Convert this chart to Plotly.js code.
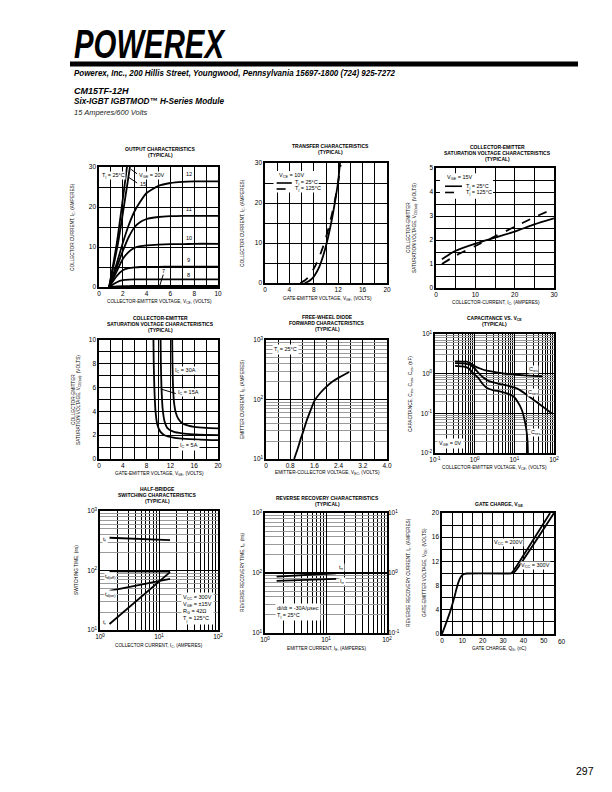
<!DOCTYPE html>
<html><head><meta charset="utf-8">
<script src="https://cdn.plot.ly/plotly-3.0.1.min.js"></script>
<style>html,body{margin:0;padding:0;background:#fff}#chart{width:612px;height:792px}</style>
</head><body><div id="chart"></div>
<script>
// ===== DATA =====
// 1. Output characteristics
const outVce = [0.85,1.5,2,2.5,3,3.5,4,5,6,7,8,10];
const outIc12 = [0,6,11,15.5,19,21.5,23.5,25.3,26,26.3,26.4,26.4];
const outIc11 = [0,5,9,12.5,15,16.3,17,17.5,17.7,17.8,17.8,17.8];
const outIc10 = [0,4,7,8.8,9.8,10.2,10.4,10.6,10.7,10.7,10.8,10.8];
const outIc9  = [0,2.8,4.2,4.7,4.9,5,5,5.05,5.1,5.1,5.1,5.1];
const outIc8  = [0,1.2,1.7,1.85,1.9,1.9,1.9,1.9,1.9,1.9,1.9,1.9];
const outIc7  = [0,0.18,0.22,0.24,0.25,0.25,0.25,0.25,0.25,0.25,0.25,0.25];
const outVce20 = [0.85,1.5,2.35];
const outIc20  = [0,11,30];
const outVce15 = [0.85,1.6,2.6];
const outIc15  = [0,11,30];
// 2. Transfer characteristics
const trVge25 = [6.5,7,7.5,8,8.5,9,9.5,10,10.5,11,11.5,12,12.3];
const trIc25  = [0,0.3,0.8,1.6,2.8,4.4,6.6,9.3,12.5,16.2,20.5,25.5,30];
const trVge125 = [5.8,6.5,7,7.5,8,8.5,9,9.5,10,10.5,11,11.5,12,12.4];
const trIc125  = [0,0.6,1.3,2.3,3.6,5.1,6.9,9,11.4,14.2,17.4,21,25.2,29.5];
// 3. Vce(sat) vs Ic
const satIc = [1.5,5,10,15,20,25,30];
const satV25  = [1.2,1.55,1.85,2.1,2.35,2.65,2.9];
const satV125 = [1.0,1.35,1.75,2.15,2.55,2.95,3.3];
// 4. Vce(sat) vs Vge
const sg30V = [12.3,12.35,12.45,12.6,12.9,13.3,14,15,16,18,20];
const sg30  = [10,8,6,4.8,3.9,3.4,3.0,2.8,2.7,2.62,2.58];
const sg15V = [10.35,10.4,10.5,10.7,11,11.5,12.5,14,16,18,20];
const sg15  = [10,8,6,4.2,3.2,2.6,2.3,2.15,2.07,2.03,2.0];
const sg5V  = [9.15,9.2,9.3,9.5,9.8,10.3,11,12.5,14,17,20];
const sg5   = [10,8,6,4,2.9,2.3,2.0,1.8,1.72,1.63,1.58];
// 5. Free-wheel diode
const diodeV = [0.93,1.05,1.15,1.24,1.35,1.47,1.6,1.8,2.0,2.2,2.45,2.75];
const diodeI = [10,15,22,30,45,65,95,130,165,200,240,290];
// 6. Capacitance
const ciesV = [0.32,0.5,0.63,0.8,1.0,1.37,2,2.95,5,11.4,30,50];
const cies  = [2.04,2.02,2.0,1.8,1.55,1.35,1.2,1.12,1.02,0.94,0.88,0.86];
const coesV = [0.32,0.5,0.76,1.0,1.3,1.7,2.4,4,7.8,12,20,40,87];
const coes  = [1.85,1.82,1.68,1.35,1.0,0.78,0.64,0.56,0.48,0.42,0.30,0.18,0.10];
const cresV = [0.32,0.5,0.69,0.9,1.23,1.6,2.0,3,4.3,6.5,9.4,12,15.3,18,20,21.5,22];
const cres  = [1.58,1.52,1.38,1.05,0.78,0.55,0.44,0.38,0.36,0.32,0.27,0.2,0.125,0.07,0.04,0.02,0.01];
// 7. Switching times
const swIc = [1.45,15.4];
const swTf = [355,324];
const swTdoff = [97,96];
const swTdon = [45.6,72];
const swTr = [12.6,94];
// 8. Reverse recovery
const rrIe = [1.55,14.7];
const rrTrr = [87,99];
const rrIrr = [0.74,0.80];
// 9. Gate charge
const gcQ = [0,2,4,6,7,8,9,10,11,12,34];
const gcV = [0,1.8,3.7,6,7.3,8.5,9.3,9.75,9.92,10,10];
const gc200Q = [34,35,53.1];
const gc200V = [10,10.4,20];
const gc300Q = [34.5,36,55];
const gc300V = [10,10.4,20];

// tick labels
const c1xLabels=[0,2,4,6,8,10], c1yLabels=[0,10,20,30];
const c2xLabels=[0,4,8,12,16,20], c2yLabels=[0,10,20,30];
const c3xLabels=[0,10,20,30], c3yLabels=[0,1,2,3,4,5];
const c4xLabels=[0,4,8,12,16,20], c4yLabels=[0,2,4,6,8,10];
const c5xLabels=[0,0.8,1.6,2.4,3.2,4.0];
const c9xLabels=[0,10,20,30,40,50], c9yLabels=[0,4,8,12,16,20];
const sup = (e)=>'10<sup>'+e+'</sup>';

// ===== LAYOUT HELPERS =====
const W=612,H=792;
const px=x=>x/W, py=y=>1-y/H;
const FONT='Liberation Sans, Arial, sans-serif';
const dom = {
 1:{x:[99,218],y:[167,287]}, 2:{x:[265,387],y:[163,283]}, 3:{x:[436,554],y:[168,288]},
 4:{x:[99,218],y:[340,459]}, 5:{x:[266,387],y:[340,459]}, 6:{x:[435,554],y:[334,453]},
 7:{x:[100,218],y:[511,630]}, 8:{x:[265,387],y:[513,633]}, 9:{x:[442,554],y:[513,634]}};
const ax = n => n===1?'':String(n);

function base(){
  return {showline:true,linewidth:1.6,linecolor:'black',mirror:true,showgrid:true,gridcolor:'black',
    gridwidth:1,zeroline:false,ticks:'',tickfont:{family:FONT,size:6.5,color:'black'},fixedrange:true};
}
function seq(a,b,s){const r=[];for(let v=a;v<=b+1e-9;v+=s)r.push(Math.round(v*1000)/1000);return r;}
function linAxis(isX,n,range,labels,step,fmt){
  const d = isX?[px(dom[n].x[0]),px(dom[n].x[1])]:[py(dom[n].y[1]),py(dom[n].y[0])];
  return Object.assign(base(),{domain:d,anchor:(isX?'y':'x')+ax(n),range,
    tickmode:'array',tickvals:labels.filter(v=>v<=range[1]),ticktext:labels.filter(v=>v<=range[1]).map(fmt||String),
    minor:{tickmode:'array',tickvals:seq(range[0],range[1],step),showgrid:true,gridcolor:'black',gridwidth:1,ticks:''}});
}
function logMinor(lo,hi){const m=[];for(let e=lo;e<hi;e++)for(let k=2;k<=9;k++)m.push(k*Math.pow(10,e));return m;}
function decades(lo,hi){const v=[],t=[];for(let e=lo;e<=hi;e++){v.push(Math.pow(10,e));t.push(sup(e<0?'-'+(-e):e));}return [v,t];}
function logX(n,lo,hi){
  const [v,t]=decades(lo,hi);
  return Object.assign(base(),{domain:[px(dom[n].x[0]),px(dom[n].x[1])],anchor:'y'+ax(n),type:'log',range:[lo,hi],
    tickmode:'array',tickvals:v,ticktext:t,
    minor:{tickmode:'array',tickvals:logMinor(lo,hi),showgrid:true,gridcolor:'black',gridwidth:1,ticks:''}});
}
function logY(n,lo,hi){
  const [v,t]=decades(lo,hi);
  return Object.assign(base(),{domain:[py(dom[n].y[1]),py(dom[n].y[0])],anchor:'x'+ax(n),type:'log',range:[lo,hi],
    tickmode:'array',tickvals:v,ticktext:t,gridwidth:1.4,
    minor:{tickmode:'array',tickvals:logMinor(lo,hi),showgrid:true,gridcolor:'#9a9a9a',gridwidth:1,ticks:''}});
}

// ===== TRACES =====
const traces=[];
function line(n,x,y,dash,yaxisOverride){
  traces.push({x,y,xaxis:'x'+ax(n),yaxis:yaxisOverride||('y'+ax(n)),mode:'lines',hoverinfo:'skip',
    line:{color:'black',width:1.8,dash:dash||'solid',shape:'spline',smoothing:0.6}});
}
line(1,outVce,outIc12);line(1,outVce,outIc11);line(1,outVce,outIc10);line(1,outVce,outIc9);
line(1,outVce,outIc8);line(1,outVce,outIc7);line(1,outVce20,outIc20);line(1,outVce15,outIc15);
line(2,trVge25,trIc25);line(2,trVge125,trIc125,'dash');
line(3,satIc,satV25);line(3,satIc,satV125,'dash');
line(4,sg30V,sg30);line(4,sg15V,sg15);line(4,sg5V,sg5);
line(5,diodeV,diodeI);
line(6,ciesV,cies);line(6,coesV,coes);line(6,cresV,cres);
line(7,swIc,swTf);line(7,swIc,swTdoff);line(7,swIc,swTdon);line(7,swIc,swTr);
line(8,rrIe,rrTrr);line(8,rrIe,rrIrr,null,'y10');
line(9,gcQ,gcV);line(9,gc200Q,gc200V);line(9,gc300Q,gc300V);

// ===== AXES =====
const layout={width:W,height:H,margin:{l:0,r:0,t:0,b:0},showlegend:false,paper_bgcolor:'white',plot_bgcolor:'white',
  font:{family:FONT,color:'black'}};
layout.xaxis=linAxis(true,1,[0,10],c1xLabels,1);
layout.yaxis=linAxis(false,1,[0,30],c1yLabels,5);
layout.xaxis2=linAxis(true,2,[0,20],c2xLabels,2);
layout.yaxis2=linAxis(false,2,[0,30],c2yLabels,5);
layout.xaxis3=linAxis(true,3,[0,30],c3xLabels,5);
layout.yaxis3=linAxis(false,3,[0,5],c3yLabels,0.5);
layout.xaxis4=linAxis(true,4,[0,20],c4xLabels,2);
layout.yaxis4=linAxis(false,4,[0,10],c4yLabels,1);
layout.xaxis5=linAxis(true,5,[0,4],c5xLabels,0.4,v=>v===0?'0':v.toFixed(1));
layout.yaxis5=logY(5,1,3);
layout.xaxis6=logX(6,-1,2); layout.yaxis6=logY(6,-2,1);
layout.xaxis7=logX(7,0,2); layout.yaxis7=logY(7,1,3);
layout.xaxis8=logX(8,0,2); layout.yaxis8=logY(8,1,3);
const y10=decades(-1,1);
layout.yaxis10={overlaying:'y8',side:'right',anchor:'x8',type:'log',range:[-1,1],tickmode:'array',tickvals:y10[0],ticktext:y10[1],
  showgrid:false,showline:false,zeroline:false,ticks:'',tickfont:{family:FONT,size:6.5,color:'black'},fixedrange:true};
layout.xaxis9=linAxis(true,9,[0,55],c9xLabels,5);
layout.yaxis9=linAxis(false,9,[0,20],c9yLabels,2);

// ===== TEXT =====
const ann=[];const shapes=[];
function P(text,x,y,o){ann.push(Object.assign({text,x:px(x),y:py(y),xref:'paper',yref:'paper',showarrow:false,
  xanchor:'center',yanchor:'middle',font:{family:FONT,size:4.7,color:'black'}},o||{}));}
function T(text,x,y){P(text,x,y,{font:{family:FONT,size:5,color:'black',weight:'bold'}});}
function D(n,text,x,y,o){ann.push(Object.assign({text,x,y,xref:'x'+ax(n),yref:'y'+ax(n),showarrow:false,
  xanchor:'center',yanchor:'middle',font:{family:FONT,size:5.5,color:'black'}},o||{}));}
function L(n,x0,y0,x1,y1,dash){shapes.push({type:'line',xref:'x'+ax(n),yref:'y'+ax(n),x0,y0,x1,y1,line:{color:'black',width:dash==='w'?1:1.6,dash:dash&&dash!=='w'?dash:'solid'}});}
function R(n,x0,y0,x1,y1){shapes.push({type:'rect',xref:'x'+ax(n),yref:'y'+ax(n),x0,y0,x1,y1,fillcolor:'white',line:{width:0},layer:'above'});}

// header
const HF='Liberation Sans, Arial';
P('POWEREX',72,44,{xanchor:'left',font:{family:HF,size:40,color:'black',weight:'bold',style:'italic'}});
shapes.push({type:'rect',xref:'paper',yref:'paper',x0:px(70),x1:px(578),y0:py(66.5),y1:py(61.5),fillcolor:'black',line:{width:0}});
P('Powerex, Inc., 200 Hillis Street, Youngwood, Pennsylvania 15697-1800 (724) 925-7272',72,72.5,
  {xanchor:'left',font:{family:HF,size:9.5,color:'black',weight:'bold',style:'italic'}});
P('CM15TF-12H',72,91,{xanchor:'left',font:{family:HF,size:9,color:'black',weight:'bold',style:'italic'}});
P('Six-IGBT IGBTMOD™ H-Series Module',72,101.5,{xanchor:'left',font:{family:HF,size:9,color:'black',weight:'bold',style:'italic'}});
P('15 Amperes/600 Volts',72,112.5,{xanchor:'left',font:{family:HF,size:7.5,color:'#222',style:'italic'}});
P('297',585,771,{font:{family:HF,size:10.5,color:'black'}});

// chart titles
T('OUTPUT CHARACTERISTICS',160,149); T('(TYPICAL)',160,155);
T('TRANSFER CHARACTERISTICS',330,146); T('(TYPICAL)',330,152);
T('COLLECTOR-EMITTER',497,147); T('SATURATION VOLTAGE CHARACTERISTICS',497,153); T('(TYPICAL)',497,159);
T('COLLECTOR-EMITTER',160,318); T('SATURATION VOLTAGE CHARACTERISTICS',160,324); T('(TYPICAL)',160,330);
T('FREE-WHEEL DIODE',327,317); T('FORWARD CHARACTERISTICS',327,323); T('(TYPICAL)',327,329);
T('CAPACITANCE VS. V<sub>CE</sub>',494,318); T('(TYPICAL)',494,324);
T('HALF-BRIDGE',157,489); T('SWITCHING CHARACTERISTICS',157,495); T('(TYPICAL)',157,501);
T('REVERSE RECOVERY CHARACTERISTICS',327,498); T('(TYPICAL)',327,504);
T('GATE CHARGE, V<sub>GE</sub>',499,504);

// axis titles
const rot={textangle:-90};
P('COLLECTOR-EMITTER VOLTAGE, V<sub>CE</sub>, (VOLTS)',159,302);
P('COLLECTOR CURRENT, I<sub>C</sub>, (AMPERES)',73,227,rot);
P('GATE-EMITTER VOLTAGE, V<sub>GE</sub>, (VOLTS)',327,299);
P('COLLECTOR CURRENT, I<sub>C</sub>, (AMPERES)',243,223,rot);
P('COLLECTOR-CURRENT, I<sub>C</sub>, (AMPERES)',496,303);
P('COLLECTOR-EMITTER',409,228,rot); P('SATURATION VOLTAGE, V<sub>CE(sat)</sub>, (VOLTS)',415,228,rot);
P('GATE-EMITTER VOLTAGE, V<sub>GE</sub>, (VOLTS)',159,474);
P('COLLECTOR-EMITTER',73,400,rot); P('SATURATION VOLTAGE, V<sub>CE(sat)</sub>, (VOLTS)',79,400,rot);
P('EMITTER-COLLECTOR VOLTAGE, V<sub>EC</sub>, (VOLTS)',327,473);
P('EMITTER CURRENT, I<sub>E</sub>, (AMPERES)',243,400,rot);
P('COLLECTOR-EMITTER VOLTAGE, V<sub>CE</sub>, (VOLTS)',494,468);
P('CAPACITANCE, C<sub>ies</sub>, C<sub>oes</sub>, C<sub>res</sub>, (nF)',411,394,rot);
P('COLLECTOR CURRENT, I<sub>C</sub>, (AMPERES)',159,646);
P('SWITCHING TIME, (ns)',76,570,rot);
P('EMITTER CURRENT, I<sub>E</sub>, (AMPERES)',326,649);
P('REVERSE RECOVERY TIME, t<sub>rr</sub>, (ns)',243,573,rot);
P('REVERSE RECOVERY CURRENT, I<sub>rr</sub>, (AMPERES)',409,573,rot);
P('GATE CHARGE, Q<sub>G</sub>, (nC)',499,649);
P('GATE-EMITTER VOLTAGE, V<sub>GE</sub>, (VOLTS)',425,573,rot);
P('60',562,641,{font:{family:FONT,size:6.5,color:'black'}});

// chart 1 labels
D(1,'T<sub>j</sub> = 25°C',0.2,27.9,{xanchor:'left',bgcolor:'white',borderpad:0});
D(1,'V<sub>GE</sub> = 20V',3.3,27.9,{xanchor:'left',bgcolor:'white',borderpad:0});
D(1,'15',3.3,25.7,{xanchor:'left'});
L(1,3.2,28.3,2.7,29.4,'w'); L(1,3.2,26.0,2.5,27.4,'w');
D(1,'12',7.55,28.2); D(1,'11',7.55,19.4); D(1,'10',7.55,12.2); D(1,'9',7.55,6.8); D(1,'8',7.55,3.1); D(1,'7',5.45,3.9);
L(1,5.4,3.1,5.1,0.3,'w');
// chart 2 legend
R(2,1.4,22.6,8.8,28);
D(2,'V<sub>CE</sub> = 10V',2,26.8,{xanchor:'left'});
L(2,1.9,25,4.4,25,'solid'); D(2,'T<sub>j</sub> = 25°C',4.6,25,{xanchor:'left'});
L(2,1.9,23.5,4.4,23.5,'dash'); D(2,'T<sub>j</sub> = 125°C',4.6,23.5,{xanchor:'left'});
// chart 3 legend
R(3,1,3.72,14.5,4.78);
D(3,'V<sub>GE</sub> = 15V',2.3,4.6,{xanchor:'left'});
L(3,2.3,4.24,6.6,4.24,'solid'); D(3,'T<sub>j</sub> = 25°C',7,4.24,{xanchor:'left'});
L(3,2.3,3.98,6.6,3.98,'dash'); D(3,'T<sub>j</sub> = 125°C',7,3.98,{xanchor:'left'});
// chart 4 labels
D(4,'I<sub>C</sub> = 30A',12.6,7.45,{xanchor:'left',bgcolor:'white',borderpad:0});
D(4,'I<sub>C</sub> = 15A',13.1,5.6,{xanchor:'left',bgcolor:'white',borderpad:0});
L(4,10.6,5.85,12.9,5.5,'w');
D(4,'I<sub>C</sub> = 5A',13.2,1.1,{xanchor:'left',bgcolor:'white',borderpad:1});
// chart 5
D(5,'T<sub>j</sub> = 25°C',0.2,Math.log10(700),{xanchor:'left',bgcolor:'white',borderpad:1});
// chart 6
D(6,'C<sub>ies</sub>',Math.log10(30),Math.log10(1.25),{bgcolor:'white',borderpad:0});
D(6,'C<sub>oes</sub>',Math.log10(30),Math.log10(0.33),{bgcolor:'white',borderpad:0});
D(6,'C<sub>res</sub>',Math.log10(35),Math.log10(0.032),{bgcolor:'white',borderpad:0});
D(6,'V<sub>GE</sub> = 0V',Math.log10(0.115),Math.log10(0.017),{xanchor:'left',bgcolor:'white',borderpad:1});
// chart 7
D(7,'t<sub>f</sub>',Math.log10(1.22),Math.log10(330),{bgcolor:'white',borderpad:0});
D(7,'t<sub>d(off)</sub>',Math.log10(1.5),Math.log10(78),{bgcolor:'white',borderpad:0});
D(7,'t<sub>d(on)</sub>',Math.log10(1.5),Math.log10(39),{bgcolor:'white',borderpad:0});
D(7,'t<sub>r</sub>',Math.log10(1.22),Math.log10(13.5),{bgcolor:'white',borderpad:0});
D(7,'V<sub>CC</sub> = 300V<br>V<sub>GE</sub> = ±15V<br>R<sub>G</sub> = 42Ω<br>T<sub>j</sub> = 125°C',Math.log10(24),Math.log10(23),
  {xanchor:'left',align:'left',bgcolor:'white',borderpad:1,font:{family:FONT,size:5.5,color:'black'}});
// chart 8
D(8,'t<sub>rr</sub>',Math.log10(18),Math.log10(122),{bgcolor:'white',borderpad:0});
D(8,'I<sub>rr</sub>',Math.log10(18.5),Math.log10(71),{bgcolor:'white',borderpad:0});
D(8,'di/dt = -30A/µsec<br>T<sub>j</sub> = 25°C',Math.log10(1.45),Math.log10(22),
  {xanchor:'left',align:'left',bgcolor:'white',borderpad:1,font:{family:FONT,size:5.5,color:'black'}});
// chart 9
D(9,'V<sub>CC</sub> = 200V',32.5,15.1,{bgcolor:'white',borderpad:0});
D(9,'V<sub>CC</sub> = 300V',46,11.3,{bgcolor:'white',borderpad:0});

layout.annotations=ann; layout.shapes=shapes;

// condensed header texts (fit measured widths)
const fitWidths = [['POWEREX',150],['Powerex, Inc.',321],['Six-IGBT',150]];
Plotly.newPlot('chart',traces,layout,{staticPlot:true,displayModeBar:false}).then(()=>{
  document.querySelectorAll('.annotation-text').forEach(el=>{
    const t=el.textContent;
    fitWidths.forEach(([key,w])=>{
      if(t.indexOf(key)===0){
        const b0=el.getBBox();
        el.setAttribute('textLength',w); el.setAttribute('lengthAdjust','spacingAndGlyphs');
        const b1=el.getBBox();
        el.setAttribute('transform','translate('+(b0.x-b1.x)+',0)');
      }
    });
  });
});
</script></body></html>
